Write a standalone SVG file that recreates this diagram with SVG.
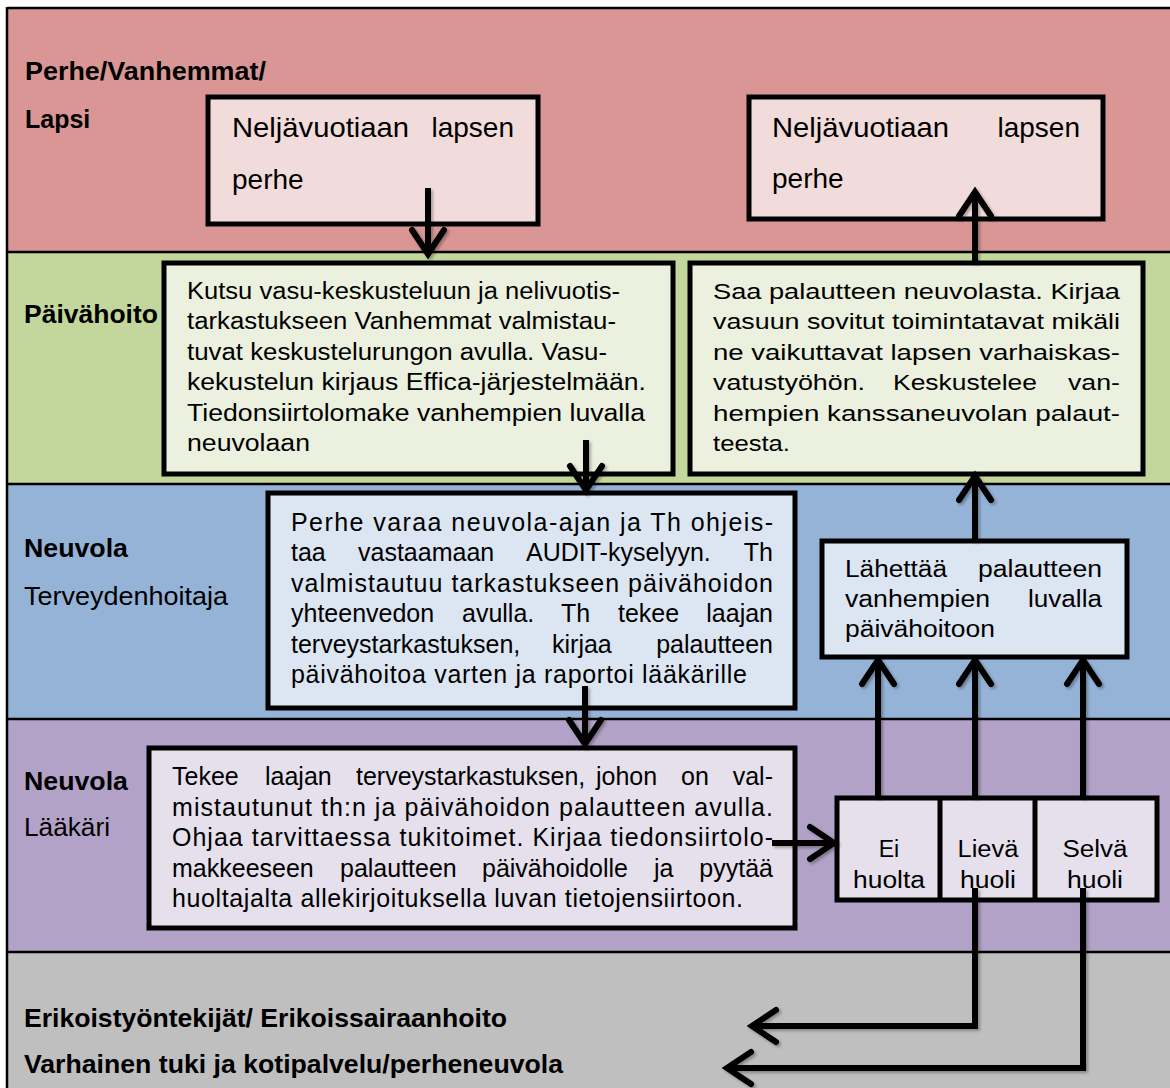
<svg xmlns="http://www.w3.org/2000/svg" width="1170" height="1088" viewBox="0 0 1170 1088">
<defs>
<style>
.t{font-family:"Liberation Sans",Arial,sans-serif;fill:#000}
.lb{font-size:25px;font-weight:bold}
.lr{font-size:25px}
.box{stroke:#000;stroke-width:5}
.sep{stroke:#000;stroke-width:2.5}
.c{fill:none;stroke:#000;stroke-width:6;marker-end:url(#ah)}
</style>
<marker id="ah" markerUnits="userSpaceOnUse" viewBox="-30 -22 36 44" refX="0" refY="0" markerWidth="36" markerHeight="44" orient="auto" overflow="visible">
<path d="M-24,-16 L0,0 L-24,16" fill="none" stroke="#000" stroke-width="6" stroke-linecap="round" stroke-linejoin="miter"/>
</marker>
<filter id="sh" x="-20%" y="-20%" width="140%" height="140%">
<feDropShadow dx="2" dy="2" stdDeviation="1.5" flood-color="#000" flood-opacity="0.3"/>
</filter>
</defs>

<g id="lanes">
<rect x="7" y="8" width="1170" height="244" fill="#d99694"/>
<rect x="7" y="252" width="1170" height="232" fill="#c3d69b"/>
<rect x="7" y="484" width="1170" height="235" fill="#95b3d7"/>
<rect x="7" y="719" width="1170" height="233" fill="#b2a2c7"/>
<rect x="7" y="952" width="1170" height="140" fill="#bfbfbf"/>
<line class="sep" x1="7" y1="8" x2="1170" y2="8"/>
<line class="sep" x1="7" y1="7" x2="7" y2="1088"/>
<line class="sep" x1="7" y1="252" x2="1170" y2="252"/>
<line class="sep" x1="7" y1="484" x2="1170" y2="484"/>
<line class="sep" x1="7" y1="719" x2="1170" y2="719"/>
<line class="sep" x1="7" y1="952" x2="1170" y2="952"/>
</g>

<g id="lane-labels">
<text class="t lb" x="25" y="80" textLength="241" lengthAdjust="spacingAndGlyphs">Perhe/Vanhemmat/</text>
<text class="t lb" x="25" y="128">Lapsi</text>
<text class="t lb" x="24" y="323" textLength="134" lengthAdjust="spacingAndGlyphs">Päivähoito</text>
<text class="t lb" x="24" y="557" textLength="104" lengthAdjust="spacingAndGlyphs">Neuvola</text>
<text class="t lr" x="24" y="605" textLength="204" lengthAdjust="spacingAndGlyphs">Terveydenhoitaja</text>
<text class="t lb" x="24" y="790" textLength="104" lengthAdjust="spacingAndGlyphs">Neuvola</text>
<text class="t lr" x="24" y="836" textLength="86" lengthAdjust="spacingAndGlyphs">Lääkäri</text>
<text class="t lb" x="24" y="1027" textLength="483" lengthAdjust="spacingAndGlyphs">Erikoistyöntekijät/ Erikoissairaanhoito</text>
<text class="t lb" x="24" y="1073" textLength="539" lengthAdjust="spacingAndGlyphs">Varhainen tuki ja kotipalvelu/perheneuvola</text>
</g>

<g id="perhe-1">
<rect class="box" x="208" y="97" width="330" height="127" fill="#f2dcdb"/>
<g class="t" font-size="28">
<text x="232" y="137" textLength="177" lengthAdjust="spacingAndGlyphs">Neljävuotiaan</text>
<text x="514" y="137" text-anchor="end">lapsen</text>
<text x="232" y="189">perhe</text>
</g>
</g>

<g id="perhe-2">
<rect class="box" x="749" y="97" width="354" height="122" fill="#f2dcdb"/>
<g class="t" font-size="28">
<text x="772" y="137" textLength="177" lengthAdjust="spacingAndGlyphs">Neljävuotiaan</text>
<text x="1080" y="137" text-anchor="end">lapsen</text>
<text x="772" y="188">perhe</text>
</g>
</g>

<g id="paivahoito-1">
<rect class="box" x="164" y="263" width="509" height="211" fill="#ebf1de"/>
<g class="t" font-size="23">
<text x="187" y="298.5" textLength="433" lengthAdjust="spacingAndGlyphs">Kutsu vasu-keskusteluun ja nelivuotis-</text>
<text x="187" y="329" textLength="429" lengthAdjust="spacingAndGlyphs">tarkastukseen Vanhemmat valmistau-</text>
<text x="187" y="359.5" textLength="420" lengthAdjust="spacingAndGlyphs">tuvat keskustelurungon avulla. Vasu-</text>
<text x="187" y="390" textLength="459" lengthAdjust="spacingAndGlyphs">kekustelun kirjaus Effica-järjestelmään.</text>
<text x="187" y="420.5" textLength="458" lengthAdjust="spacingAndGlyphs">Tiedonsiirtolomake vanhempien luvalla</text>
<text x="187" y="451" textLength="123" lengthAdjust="spacingAndGlyphs">neuvolaan</text>
</g>
</g>

<g id="paivahoito-2">
<rect class="box" x="690" y="263" width="453" height="211" fill="#ebf1de"/>
<g class="t" font-size="22">
<text x="713" y="298.5" textLength="407" lengthAdjust="spacingAndGlyphs">Saa palautteen neuvolasta. Kirjaa</text>
<text x="713" y="329" textLength="407" lengthAdjust="spacingAndGlyphs">vasuun sovitut toimintatavat mikäli</text>
<text x="713" y="359.5" textLength="407" lengthAdjust="spacingAndGlyphs">ne vaikuttavat lapsen varhaiskas-</text>
<text x="713" y="390" textLength="152" lengthAdjust="spacingAndGlyphs">vatustyöhön.</text>
<text x="893" y="390" textLength="144" lengthAdjust="spacingAndGlyphs">Keskustelee</text>
<text x="1068" y="390" textLength="52" lengthAdjust="spacingAndGlyphs">van-</text>
<text x="713" y="420.5" textLength="407" lengthAdjust="spacingAndGlyphs">hempien kanssaneuvolan palaut-</text>
<text x="713" y="451" textLength="77" lengthAdjust="spacingAndGlyphs">teesta.</text>
</g>
</g>

<g id="terveydenhoitaja">
<rect class="box" x="268" y="493" width="527" height="215" fill="#dce6f2"/>
<g class="t" font-size="25">
<text x="291" y="531" textLength="482" lengthAdjust="spacing">Perhe varaa neuvola-ajan ja Th ohjeis-</text>
<text x="291" y="561">taa</text>
<text x="358" y="561">vastaamaan</text>
<text x="526" y="561">AUDIT-kyselyyn.</text>
<text x="773" y="561" text-anchor="end">Th</text>
<text x="291" y="592" textLength="482" lengthAdjust="spacing">valmistautuu tarkastukseen päivähoidon</text>
<text x="291" y="622">yhteenvedon</text>
<text x="462" y="622">avulla.</text>
<text x="561" y="622">Th</text>
<text x="618" y="622">tekee</text>
<text x="773" y="622" text-anchor="end">laajan</text>
<text x="291" y="653">terveystarkastuksen,</text>
<text x="552" y="653">kirjaa</text>
<text x="773" y="653" text-anchor="end">palautteen</text>
<text x="291" y="683" textLength="456" lengthAdjust="spacing">päivähoitoa varten ja raportoi lääkärille</text>
</g>
</g>

<g id="lahettaa">
<rect class="box" x="822" y="541" width="305" height="116" fill="#dce6f2"/>
<g class="t" font-size="23">
<text x="845" y="577" textLength="102" lengthAdjust="spacingAndGlyphs">Lähettää</text>
<text x="978" y="577" textLength="124" lengthAdjust="spacingAndGlyphs">palautteen</text>
<text x="845" y="607" textLength="145" lengthAdjust="spacingAndGlyphs">vanhempien</text>
<text x="1028" y="607" textLength="74" lengthAdjust="spacingAndGlyphs">luvalla</text>
<text x="845" y="637" textLength="150" lengthAdjust="spacingAndGlyphs">päivähoitoon</text>
</g>
</g>

<g id="laakari">
<rect class="box" x="149" y="748" width="646" height="180" fill="#e5e0ec"/>
<g class="t" font-size="25">
<text x="172" y="785">Tekee</text>
<text x="265" y="785">laajan</text>
<text x="356" y="785">terveystarkastuksen,</text>
<text x="596" y="785">johon</text>
<text x="681" y="785">on</text>
<text x="773" y="785" text-anchor="end">val-</text>
<text x="172" y="815.5" textLength="601" lengthAdjust="spacing">mistautunut th:n ja päivähoidon palautteen avulla.</text>
<text x="172" y="846" textLength="601" lengthAdjust="spacing">Ohjaa tarvittaessa tukitoimet. Kirjaa tiedonsiirtolo-</text>
<text x="172" y="876.5">makkeeseen</text>
<text x="340" y="876.5">palautteen</text>
<text x="482" y="876.5">päivähoidolle</text>
<text x="654" y="876.5">ja</text>
<text x="773" y="876.5" text-anchor="end">pyytää</text>
<text x="172" y="907" textLength="571" lengthAdjust="spacing">huoltajalta allekirjoituksella luvan tietojensiirtoon.</text>
</g>
</g>

<g id="huoli">
<rect class="box" x="837" y="798" width="320" height="102" fill="#e5e0ec"/>
<line class="box" x1="940" y1="798" x2="940" y2="900"/>
<line class="box" x1="1035" y1="798" x2="1035" y2="900"/>
<g class="t" font-size="23" text-anchor="middle">
<text x="889" y="857">Ei</text>
<text x="889" y="888" textLength="72" lengthAdjust="spacingAndGlyphs">huolta</text>
<text x="988" y="857" textLength="61" lengthAdjust="spacingAndGlyphs">Lievä</text>
<text x="988" y="888" textLength="56" lengthAdjust="spacingAndGlyphs">huoli</text>
<text x="1095" y="857" textLength="65" lengthAdjust="spacingAndGlyphs">Selvä</text>
<text x="1095" y="888" textLength="56" lengthAdjust="spacingAndGlyphs">huoli</text>
</g>
</g>

<g id="connectors" filter="url(#sh)">
<path class="c" d="M428,188 V254"/>
<path class="c" d="M975,263 V192"/>
<path class="c" d="M586,440 V490"/>
<path class="c" d="M975,541 V476"/>
<path class="c" d="M585,686 V744"/>
<path class="c" d="M772,843 H834"/>
<path class="c" d="M878,798 V660"/>
<path class="c" d="M975,798 V660"/>
<path class="c" d="M1083,798 V660"/>
<path class="c" d="M975,888 V1026 H752"/>
<path class="c" d="M1083,888 V1068 H727"/>
</g>
</svg>
